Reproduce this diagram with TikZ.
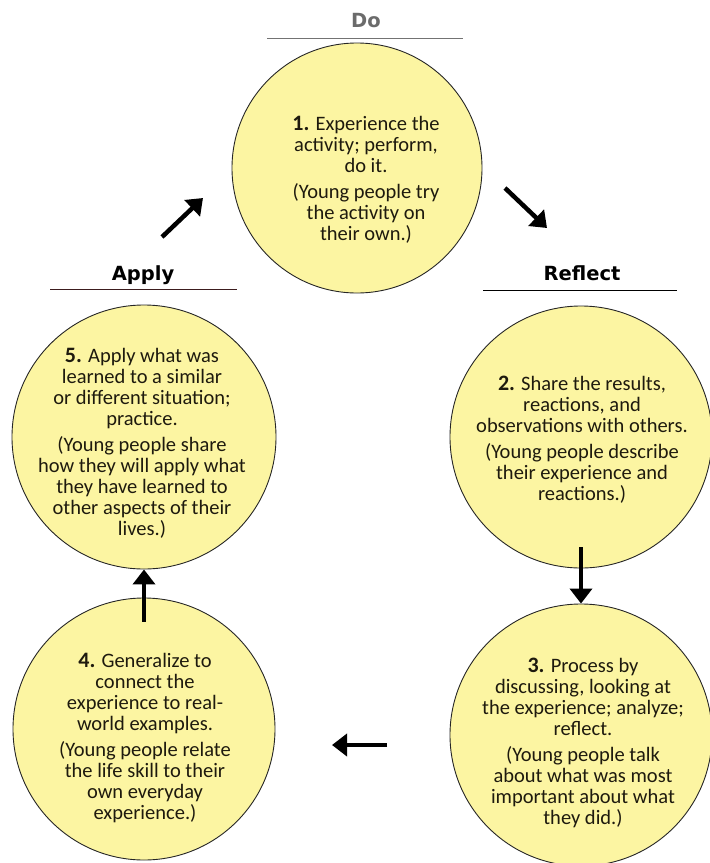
\documentclass[tikz,border=0pt]{standalone}
\usepackage{fontspec}
\setmainfont{Carlito}
\newfontfamily\headfont{DejaVu Sans}
\usetikzlibrary{arrows.meta,positioning}

\definecolor{stepyellow}{RGB}{252,245,162}
\definecolor{inkbrown}{RGB}{30,26,14}
\definecolor{lineplum}{RGB}{60,28,30}

\newcommand{\stepno}[1]{{\bfseries\fontsize{22}{21}\selectfont #1.}}

\begin{document}
\begin{tikzpicture}[x=1pt,y=-1pt,
    stage/.style={circle,draw=black!85,line width=0.9pt,fill=stepyellow,inner sep=0pt},
    stagetext/.style={align=center,text=inkbrown,inner sep=0pt,font=\fontsize{20.5}{21}\selectfont},
    heading/.style={anchor=base,font=\headfont\bfseries\fontsize{19.5}{22}\selectfont},
    bigarrow/.style={line width=4.5pt,-{Triangle[length=15pt,width=22pt]}}]
    \useasboundingbox (0,0) rectangle (710,863);

    % the five stages
    \node[stage,minimum size=250pt] (doStep) at (357,168) {};
    \node[stage,minimum size=262pt] (shareStep) at (581,437) {};
    \node[stage,minimum size=262pt] (processStep) at (581,735) {};
    \node[stage,minimum size=262pt] (generalStep) at (144,729) {};
    \node[stage,minimum size=264pt] (applyStep) at (144,437) {};

    \node[stagetext] (doText) at (366,180)
      {\stepno{1} Experience the\\ activity; perform,\\ do it.\\[5pt]
       (Young people try\\ the activity on\\ their own.)};
    \node[stagetext] (shareText) at (582,440)
      {\stepno{2} Share the results,\\ reactions, and\\ observations with others.\\[5pt]
       (Young people describe\\ their experience and\\ reactions.)};
    \node[stagetext] (processText) at (583,743)
      {\stepno{3} Process by\\ discussing, looking at\\ the experience; analyze;\\ reflect.\\[5pt]
       (Young people talk\\ about what was most\\ important about what\\ they did.)};
    \node[stagetext] (generalText) at (145,738)
      {\stepno{4} Generalize to\\ connect the\\ experience to real-\\ world examples.\\[5pt]
       (Young people relate\\ the life skill to their\\ own everyday\\ experience.)};
    \node[stagetext] (applyText) at (142,443)
      {\stepno{5} Apply what was\\ learned to a similar\\ or different situation;\\ practice.\\[5pt]
       (Young people share\\ how they will apply what\\ they have learned to\\ other aspects of their\\ lives.)};

    % headings
    \node[heading,text=black!58] (doHead) at (366,27) {Do};
    \node[heading] (reflectHead) at (582,280) {Reflect};
    \node[heading] (applyHead) at (143,280) {Apply};
    \draw[black!55,line width=0.8pt] (267,38) -- (463,38);
    \draw[black,line width=1pt] (483,290) -- (677,290);
    \draw[lineplum,line width=1pt] (50,289) -- (237,289);

    % arrows between the stages
    \coordinate (applyTail) at (162,237);
    \coordinate (applyTip) at (203,198);
    \coordinate (reflectTail) at (505,188);
    \coordinate (reflectTip) at (547,228);
    \coordinate (generalTail) at (387,745);
    \coordinate (generalTip) at (332,745);

    \path[bigarrow]
    (reflectTail) edge (reflectTip)
    ([yshift=21pt]shareStep.south) edge (processStep.north)
    (generalTail) edge (generalTip)
    ([yshift=-24pt]generalStep.north) edge (applyStep.south)
    (applyTail) edge (applyTip);
\end{tikzpicture}
\end{document}
